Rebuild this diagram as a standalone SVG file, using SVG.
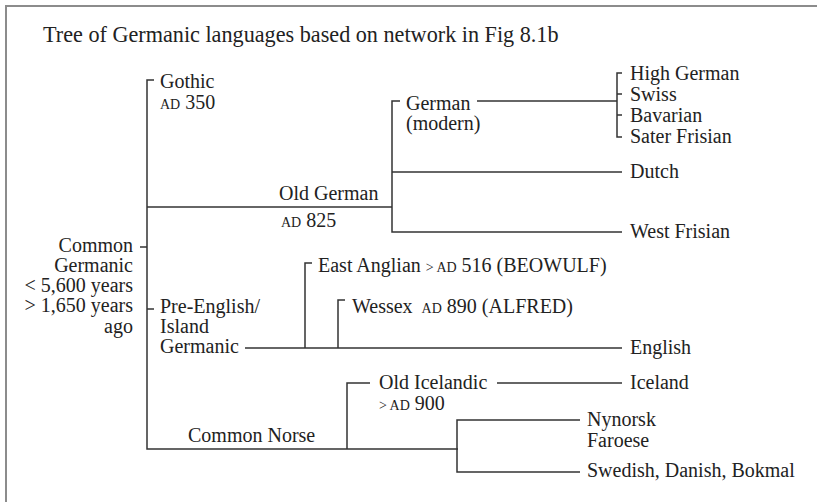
<svg xmlns="http://www.w3.org/2000/svg" width="817" height="502" viewBox="0 0 817 502">
<style>
text{font-family:"Liberation Serif","Times New Roman",serif;font-size:20px;fill:#222}
.title{font-size:22.2px}
.sc{font-size:14px}
.ln{stroke:#333;stroke-width:1.5;fill:none}
</style>
<rect x="0" y="0" width="817" height="502" fill="#fff"/>
<rect x="6" y="6" width="830" height="520" fill="none" stroke="#8c8c8c" stroke-width="2"/>
<text id="title" class="title" x="43" y="42">Tree of Germanic languages based on network in Fig 8.1b</text>
<g id="connectors">
<path class="ln" d="M154,80 H147 V449 H458"/>
<path class="ln" d="M140,247 H147"/>
<path class="ln" d="M147,207 H392"/>
<path class="ln" d="M400,101 H392 V232 H622"/>
<path class="ln" d="M392,172 H622"/>
<path class="ln" d="M477,101 H617"/>
<path class="ln" d="M622,73 H617 V137 H622"/>
<path class="ln" d="M617,94 H622 M617,115 H622"/>
<path class="ln" d="M147,309 H154"/>
<path class="ln" d="M245,348 H622"/>
<path class="ln" d="M312,263 H305 V348"/>
<path class="ln" d="M345,300 H338 V348"/>
<path class="ln" d="M370,383 H347 V449"/>
<path class="ln" d="M497,383 H622"/>
<path class="ln" d="M580,420 H457 V472 H580"/>
</g>
<g id="common-germanic"><text text-anchor="end" x="133" y="252">Common</text><text text-anchor="end" x="133" y="272">Germanic</text><text text-anchor="end" x="133" y="292">&lt; 5,600 years</text><text text-anchor="end" x="133" y="312">&gt; 1,650 years</text><text text-anchor="end" x="133" y="333">ago</text></g>
<g id="gothic"><text x="160" y="88">Gothic</text><text x="160" y="109"><tspan class="sc">AD</tspan> 350</text></g>
<g id="old-german"><text x="279" y="200">Old German</text><text x="281" y="227"><tspan class="sc">AD</tspan> 825</text></g>
<g id="german"><text x="406" y="110">German</text><text x="406" y="130">(modern)</text></g>
<g id="high-german"><text x="630" y="80">High German</text></g>
<g id="swiss"><text x="630" y="101">Swiss</text></g>
<g id="bavarian"><text x="630" y="122">Bavarian</text></g>
<g id="sater-frisian"><text x="630" y="143">Sater Frisian</text></g>
<g id="dutch"><text x="630" y="178">Dutch</text></g>
<g id="west-frisian"><text x="630" y="238">West Frisian</text></g>
<g id="pre-english"><text x="160" y="313">Pre-English/</text><text x="160" y="333">Island</text><text x="160" y="353">Germanic</text></g>
<g id="east-anglian"><text x="318" y="272">East Anglian <tspan class="sc">&gt; AD</tspan> 516 (BEOWULF)</text></g>
<g id="wessex"><text x="352" y="313">Wessex <tspan class="sc" dx="4">AD</tspan> 890 (ALFRED)</text></g>
<g id="english"><text x="630" y="354">English</text></g>
<g id="common-norse"><text x="188" y="442">Common Norse</text></g>
<g id="old-icelandic"><text x="379" y="389">Old Icelandic</text><text x="379" y="410"><tspan class="sc">&gt; AD</tspan> 900</text></g>
<g id="iceland"><text x="630" y="389">Iceland</text></g>
<g id="nynorsk"><text x="587" y="426">Nynorsk</text><text x="587" y="447">Faroese</text></g>
<g id="swedish"><text x="587" y="477">Swedish, Danish, Bokmal</text></g>
</svg>
